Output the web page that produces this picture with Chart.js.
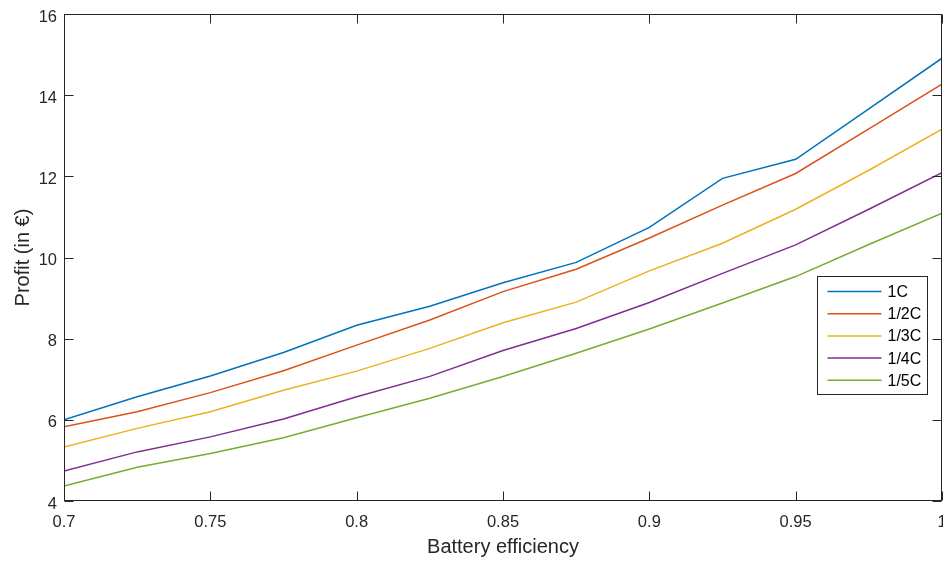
<!DOCTYPE html>
<html>
<head>
<meta charset="utf-8">
<title>Profit vs battery efficiency</title>
<script src="https://cdn.jsdelivr.net/npm/chart.js@4"></script>
<style>
  html, body { margin: 0; padding: 0; background: #fff; }
  #wrap { width: 943px; height: 561px; }
</style>
</head>
<body>
<div id="wrap"><canvas id="chart" width="943" height="561"></canvas></div>
<script>
// Battery efficiency (x) and profit per C-rate (y, in €)
const efficiency = [0.7, 0.725, 0.75, 0.775, 0.8, 0.825, 0.85, 0.875, 0.9, 0.925, 0.95, 0.975, 1.0];
const seriesLabels = ['1C', '1/2C', '1/3C', '1/4C', '1/5C'];
const profit1C  = [6.00, 6.57, 7.08, 7.66, 8.33, 8.80, 9.38, 9.88, 10.74, 11.95, 12.42, 13.66, 14.91];
const profit2C  = [5.83, 6.20, 6.67, 7.21, 7.84, 8.46, 9.16, 9.71, 10.48, 11.29, 12.07, 13.17, 14.27];
const profit3C  = [5.33, 5.79, 6.20, 6.73, 7.20, 7.76, 8.39, 8.90, 9.67, 10.35, 11.19, 12.15, 13.16];
const profit4C  = [4.74, 5.21, 5.58, 6.02, 6.57, 7.07, 7.71, 8.25, 8.89, 9.61, 10.31, 11.19, 12.09];
const profit5C  = [4.37, 4.83, 5.17, 5.56, 6.05, 6.53, 7.07, 7.64, 8.24, 8.88, 9.53, 10.32, 11.09];
const xTickValues = [0.7, 0.75, 0.8, 0.85, 0.9, 0.95, 1.0];
const xTickLabels = ['0.7', '0.75', '0.8', '0.85', '0.9', '0.95', '1'];
const yTickValues = [4, 6, 8, 10, 12, 14, 16];
const yTickLabels = ['4', '6', '8', '10', '12', '14', '16'];

const allSeries = [profit1C, profit2C, profit3C, profit4C, profit5C];
const colors = ['#0072BD', '#D95319', '#EDB120', '#7E2F8E', '#77AC30'];
const FONT = '"Liberation Sans", Arial, Helvetica, sans-serif';
const AXIS = '#262626';

const datasets = allSeries.map((vals, i) => ({
  label: seriesLabels[i],
  data: vals.map((v, j) => ({ x: efficiency[j], y: v })),
  borderColor: colors[i],
  backgroundColor: colors[i],
  borderWidth: 1.5,
  pointRadius: 0,
  tension: 0,
  fill: false
}));

// Box around the plot, inward tick marks on all four sides, and the inset legend
const boxPlugin = {
  id: 'boxPlugin',
  afterDraw(chart) {
    const { ctx, chartArea: a, scales } = chart;
    const L = Math.round(a.left) + 0.5, R = Math.round(a.right) - 0.5;
    const T = Math.round(a.top) + 0.5, B = Math.round(a.bottom) - 0.5;
    const tick = 9;
    ctx.save();
    ctx.strokeStyle = AXIS;
    ctx.lineWidth = 1;
    ctx.strokeRect(L, T, R - L, B - T);
    ctx.beginPath();
    xTickValues.forEach(v => {
      const x = Math.round(scales.x.getPixelForValue(v)) + 0.5;
      ctx.moveTo(x, B); ctx.lineTo(x, B - tick);
      ctx.moveTo(x, T); ctx.lineTo(x, T + tick);
    });
    yTickValues.forEach(v => {
      const y = Math.round(scales.y.getPixelForValue(v)) + 0.5;
      ctx.moveTo(L, y); ctx.lineTo(L + tick, y);
      ctx.moveTo(R, y); ctx.lineTo(R - tick, y);
    });
    ctx.stroke();

    // Legend inset at the right of the plot
    const lw = 110, lh = 118;
    const lx = Math.round(a.right) - 124.5, ly = Math.round(a.top) + 262.5;
    ctx.fillStyle = '#fff';
    ctx.fillRect(lx, ly, lw, lh);
    ctx.strokeStyle = AXIS;
    ctx.strokeRect(lx, ly, lw, lh);
    ctx.font = '16px ' + FONT;
    ctx.textBaseline = 'middle';
    ctx.textAlign = 'left';
    chart.data.datasets.forEach((ds, i) => {
      const y = ly + 15 + i * 22.2;
      ctx.strokeStyle = ds.borderColor;
      ctx.lineWidth = 1.5;
      ctx.beginPath();
      ctx.moveTo(lx + 10, y); ctx.lineTo(lx + 64, y);
      ctx.stroke();
      ctx.fillStyle = '#000';
      ctx.fillText(ds.label, lx + 70, y + 1);
    });
    ctx.restore();
  }
};

new Chart(document.getElementById('chart'), {
  type: 'line',
  data: { datasets },
  options: {
    responsive: false,
    animation: false,
    devicePixelRatio: 1,
    layout: { padding: { top: 14, right: 1, left: 0, bottom: 0 } },
    plugins: { legend: { display: false }, tooltip: { enabled: false } },
    scales: {
      x: {
        type: 'linear',
        min: 0.7, max: 1.0,
        afterBuildTicks: s => { s.ticks = xTickValues.map(v => ({ value: v })); },
        afterFit: s => { s.height = 60; s.paddingLeft = 0; s.paddingRight = 0; },
        grid: { display: false, drawTicks: false },
        border: { display: false },
        ticks: {
          color: AXIS,
          font: { family: FONT, size: 16.5 },
          padding: 12,
          maxRotation: 0,
          autoSkip: false,
          callback: (v) => xTickLabels[xTickValues.findIndex(t => Math.abs(t - v) < 1e-9)]
        },
        title: {
          display: true,
          text: 'Battery efficiency',
          color: AXIS,
          font: { family: FONT, size: 20 },
          padding: { top: 0, bottom: 2 }
        }
      },
      y: {
        min: 4, max: 16,
        afterBuildTicks: s => { s.ticks = yTickValues.map(v => ({ value: v })); },
        afterFit: s => { s.width = 64; s.paddingTop = 0; s.paddingBottom = 0; },
        grid: { display: false, drawTicks: false },
        border: { display: false },
        ticks: {
          color: AXIS,
          font: { family: FONT, size: 16.5 },
          padding: 7,
          labelOffset: 3,
          autoSkip: false,
          callback: (v) => yTickLabels[yTickValues.indexOf(v)]
        },
        title: {
          display: true,
          text: 'Profit (in €)',
          color: AXIS,
          font: { family: FONT, size: 20 },
          padding: { top: 11, bottom: 0 }
        }
      }
    }
  },
  plugins: [boxPlugin]
});
</script>
</body>
</html>
